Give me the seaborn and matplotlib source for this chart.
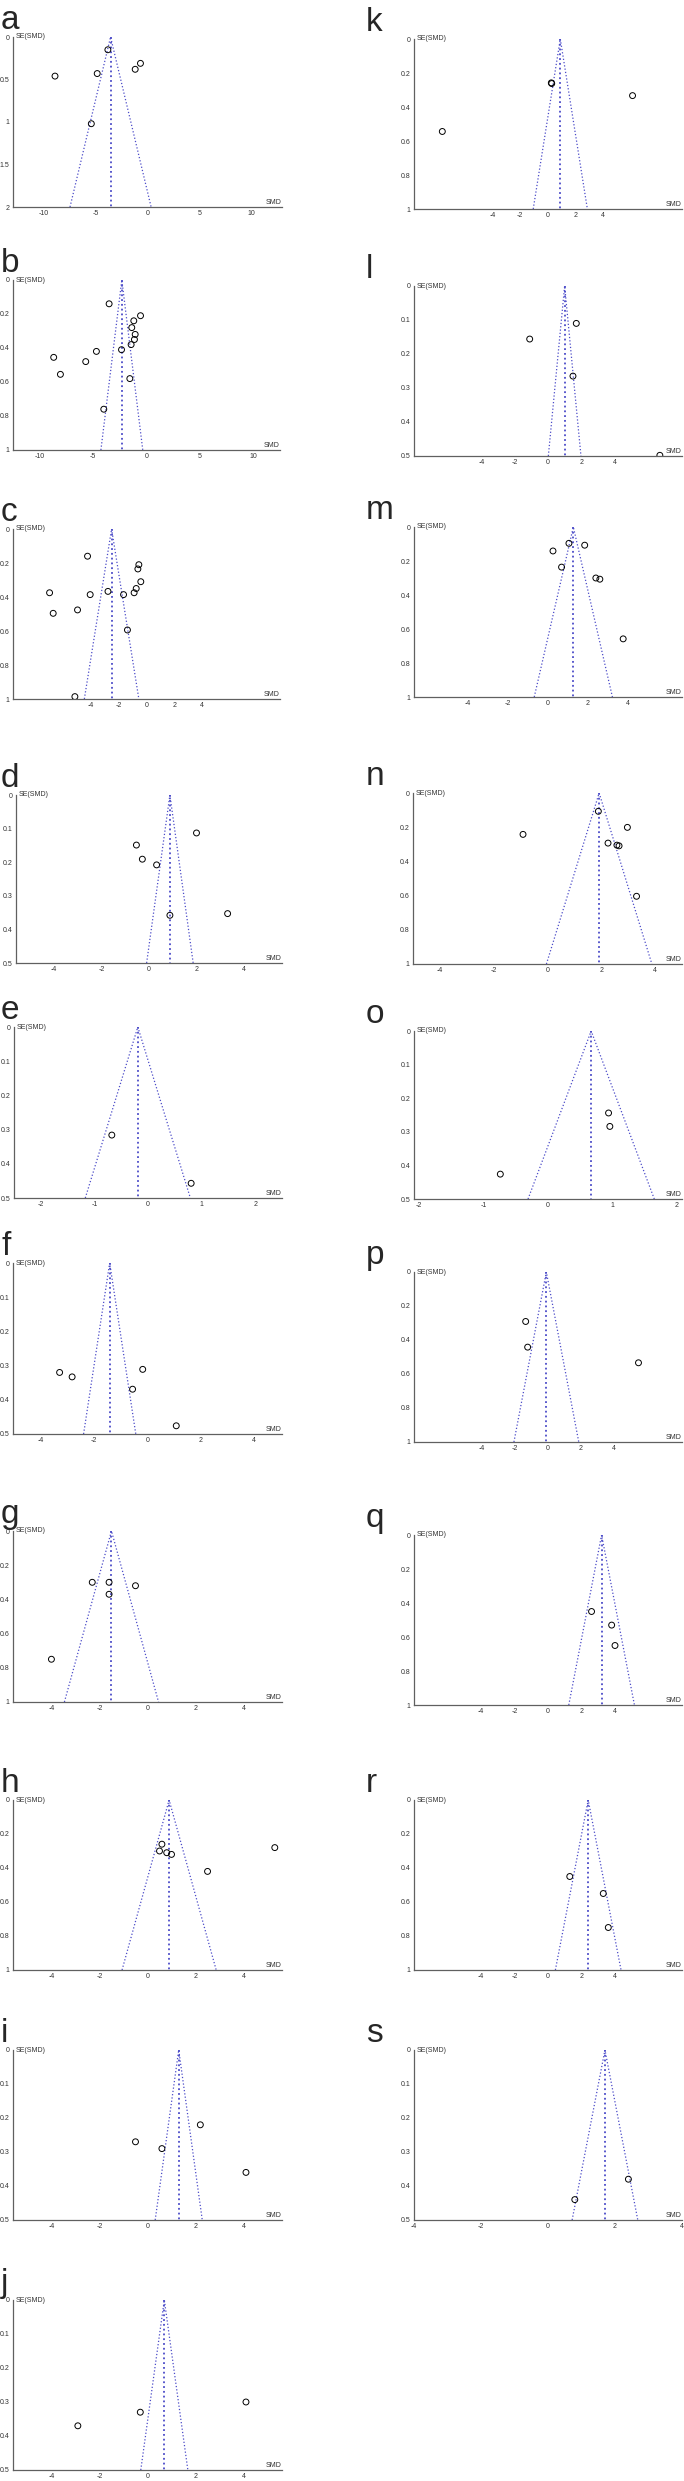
import numpy as np
import pandas as pd
import matplotlib
matplotlib.use("Agg")
import matplotlib.pyplot as plt
import seaborn as sbn

sbn.set_style("white")
plt.rcParams['font.family'] = ['Liberation Sans', 'DejaVu Sans']

W, H = 684, 2481

# study effects (SMD) and standard errors
smd_a = [-3.83, -8.94, -4.86, -1.19, -0.68, -5.43]
se_a = [0.15, 0.46, 0.43, 0.38, 0.31, 1.02]
smd_b = [-3.5, -0.56, -1.19, -1.38, -1.06, -1.13, -1.44, -2.34, -4.69, -8.69, -5.69, -8.06, -1.56, -4.0]
se_b = [0.14, 0.21, 0.24, 0.28, 0.32, 0.35, 0.38, 0.41, 0.42, 0.455, 0.48, 0.555, 0.58, 0.76]
smd_c = [-4.24, -0.55, -0.62, -0.41, -0.74, -0.89, -1.65, -2.77, -4.05, -6.97, -6.71, -4.96, -1.37, -5.15]
se_c = [0.16, 0.21, 0.235, 0.31, 0.35, 0.375, 0.386, 0.367, 0.386, 0.375, 0.496, 0.476, 0.594, 0.986]
smd_d = [2.0, -0.53, -0.28, 0.32, 0.88, 3.31]
se_d = [0.113, 0.149, 0.191, 0.208, 0.358, 0.353]
smd_e = [-0.675, 0.805]
se_e = [0.316, 0.457]
smd_f = [-3.30, -2.83, -0.56, -0.18, 1.08]
se_f = [0.32, 0.333, 0.369, 0.311, 0.476]
smd_g = [-2.3, -1.6, -1.6, -0.5, -4.0]
se_g = [0.3, 0.3, 0.37, 0.32, 0.75]
smd_h = [0.6, 0.5, 0.8, 1.0, 2.5, 5.3]
se_h = [0.26, 0.3, 0.31, 0.32, 0.42, 0.28]
smd_i = [-0.5, 0.6, 2.2, 4.1]
se_i = [0.27, 0.29, 0.22, 0.36]
smd_j = [-2.9, -0.3, 4.1]
se_j = [0.37, 0.33, 0.30]
smd_k = [0.24, 0.27, -7.65, 6.12]
se_k = [0.258, 0.262, 0.544, 0.333]
smd_l = [1.7, -1.1, 1.5, 6.72]
se_l = [0.11, 0.156, 0.265, 0.498]
smd_m = [1.05, 1.84, 0.25, 0.68, 2.40, 2.60, 3.77]
se_m = [0.096, 0.107, 0.141, 0.236, 0.30, 0.307, 0.658]
smd_n = [1.89, 2.97, -0.91, 2.25, 2.58, 2.66, 3.31]
se_n = [0.107, 0.201, 0.242, 0.293, 0.305, 0.309, 0.604]
smd_o = [0.94, 0.96, -0.74]
se_o = [0.244, 0.284, 0.426]
smd_p = [-1.35, -1.23, 5.47]
se_p = [0.291, 0.442, 0.534]
smd_q = [2.6, 3.8, 4.0]
se_q = [0.45, 0.53, 0.65]
smd_r = [1.3, 3.3, 3.6]
se_r = [0.45, 0.55, 0.75]
smd_s = [0.8, 2.4]
se_s = [0.44, 0.38]

# pooled SMD (funnel centre) per panel
pooled = [-3.57, -2.31, -2.51, 0.88, -0.19, -1.42, -1.5, 0.9, 1.3, 0.7,
          0.89, 1.0, 1.27, 1.92, 0.67, -0.1, 3.2, 2.4, 1.7]
letters = list("abcdefghijklmnopqrs")
se_max = [2, 1, 1, 0.5, 0.5, 0.5, 1, 1, 0.5, 0.5, 1, 0.5, 1, 1, 0.5, 1, 1, 1, 0.5]
x_half = [13, 12.5, 9.6, 5.6, 2.5, 5.05, 5.6, 5.6, 5.6, 5.6,
          9.7, 8.05, 6.72, 5.0, 2.08, 8.1, 8.0, 8.0, 3.0]

smd_all = [smd_a, smd_b, smd_c, smd_d, smd_e, smd_f, smd_g, smd_h, smd_i, smd_j,
           smd_k, smd_l, smd_m, smd_n, smd_o, smd_p, smd_q, smd_r, smd_s]
se_all = [se_a, se_b, se_c, se_d, se_e, se_f, se_g, se_h, se_i, se_j,
          se_k, se_l, se_m, se_n, se_o, se_p, se_q, se_r, se_s]

# axes box in pixels: left, top, right, bottom
boxes = [(13, 37, 282, 207), (13, 280, 280, 450), (13, 529, 280, 699), (16, 795, 282, 963),
         (14, 1027, 282, 1198), (13, 1263, 282, 1434), (13, 1531, 282, 1702),
         (13, 1800, 282, 1970), (13, 2050, 282, 2220), (13, 2300, 282, 2470),
         (414, 39, 682, 209), (414, 286, 682, 456), (414, 527, 682, 697), (413, 793, 682, 964),
         (414, 1031, 682, 1199), (414, 1272, 682, 1442), (414, 1535, 682, 1705),
         (414, 1800, 682, 1970), (414, 2050, 682, 2220)]

blue = '#4b4bc8'
axcol = '#606060'

fig = plt.figure(figsize=(W / 100, H / 100), dpi=100)

for i, let in enumerate(letters):
    l, t, r, b = boxes[i]
    ax = fig.add_axes([l / W, 1 - b / H, (r - l) / W, (b - t) / H])
    ymax = se_max[i]
    c = pooled[i]
    xh = x_half[i]

    df = pd.DataFrame({'SMD': smd_all[i], 'SE': se_all[i]})
    sbn.scatterplot(data=df, x='SMD', y='SE', ax=ax, s=18, marker='o', zorder=3)
    pts = ax.collections[-1]
    pts.set_facecolor('none')
    pts.set_edgecolor('black')
    pts.set_linewidth(0.7)

    # funnel: pseudo 95% limits
    ax.plot([c - 1.96 * ymax, c, c + 1.96 * ymax], [ymax, 0, ymax], ls=':', color=blue, lw=0.9)
    ax.plot([c, c], [0, ymax], ls=':', color=blue, lw=1.3)

    ax.set_xlim(-xh, xh)
    ax.set_ylim(ymax, 0)
    if xh < 3:
        ax.set_xticks([-2, -1, 0, 1, 2])
    elif xh > 12:
        ax.set_xticks([-10, -5, 0, 5, 10])
    else:
        ax.set_xticks([-4, -2, 0, 2, 4])
    if ymax == 2:
        ax.set_yticks([0, 0.5, 1, 1.5, 2])
    elif ymax == 1:
        ax.set_yticks([0, 0.2, 0.4, 0.6, 0.8, 1])
    else:
        ax.set_yticks([0, 0.1, 0.2, 0.3, 0.4, 0.5])
    ax.xaxis.set_major_formatter(plt.FuncFormatter(lambda v, p: '%g' % v))
    ax.yaxis.set_major_formatter(plt.FuncFormatter(lambda v, p: '%g' % v))
    ax.set_xlabel('')
    ax.set_ylabel('')
    for sp in ['top', 'right']:
        ax.spines[sp].set_visible(False)
    for sp in ['left', 'bottom']:
        ax.spines[sp].set_color(axcol)
        ax.spines[sp].set_linewidth(0.9)
    ax.tick_params(direction='inout', length=3, width=0.6, colors=axcol,
                   labelcolor='#333333', labelsize=5, pad=1)
    ax.patch.set_alpha(0)

    ax.text(0.01, 1.0, 'SE(SMD)', transform=ax.transAxes, fontsize=5,
            color='#333333', va='center', ha='left')
    ax.text(1.0, 0.005, 'SMD', transform=ax.transAxes, fontsize=5,
            color='#333333', va='bottom', ha='right')

    lx = 1 if l < 300 else 366
    fig.text(lx / W, 1 - (t - 8) / H, let, fontsize=24, va='baseline', ha='left')

fig.savefig('out.png', dpi=100)
